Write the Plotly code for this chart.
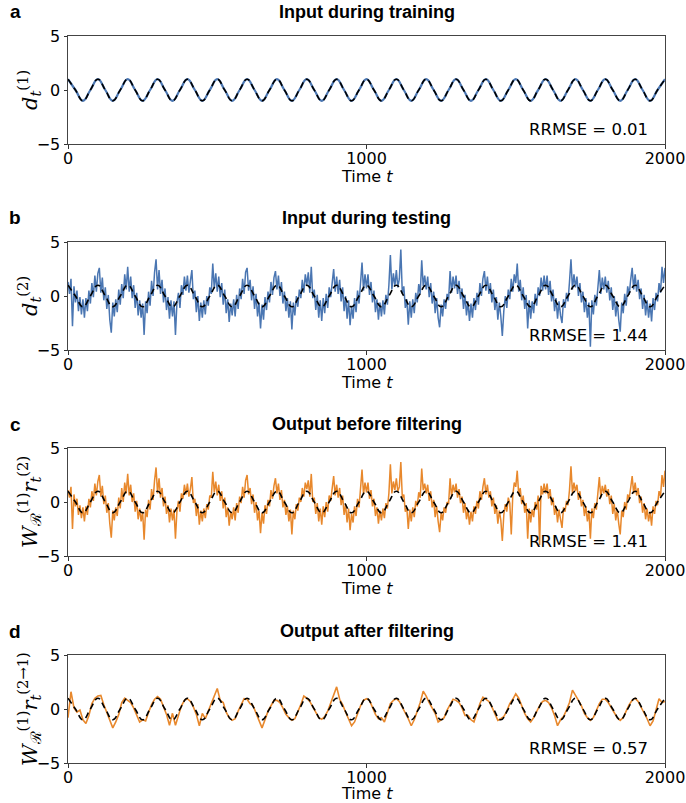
import plotly.graph_objects as go

W, H = 686, 803

# ---------------- data ----------------
target_t = list(range(0, 2001, 25))
target_vals = [1, 0, -1, 0, 1, 0, -1, 0, 1, 0, -1, 0, 1, 0, -1, 0, 1, 0, -1, 0,
               1, 0, -1, 0, 1, 0, -1, 0, 1, 0, -1, 0, 1, 0, -1, 0, 1, 0, -1, 0,
               1, 0, -1, 0, 1, 0, -1, 0, 1, 0, -1, 0, 1, 0, -1, 0, 1, 0, -1, 0,
               1, 0, -1, 0, 1, 0, -1, 0, 1, 0, -1, 0, 1, 0, -1, 0, 1, 0, -1, 0, 1]

train_input = [1, 0, -1, 0, 1, 0, -1, 0, 1, 0, -1, 0, 1, 0, -1, 0, 1, 0, -1, 0,
               1, 0, -1, 0, 1, 0, -1, 0, 1, 0, -1, 0, 1, 0, -1, 0, 1, 0, -1, 0,
               1, 0, -1, 0, 1, 0, -1, 0, 1, 0, -1, 0, 1, 0, -1, 0, 1, 0, -1, 0,
               1, 0, -1, 0, 1, 0, -1, 0, 1, 0, -1, 0, 1, 0, -1, 0, 1, 0, -1, 0, 1]

noisy_t = list(range(0, 2001, 5))

test_input = [
    1.3, 0.2, 1.6, -2.8, 0.9, -0.6, 0.5, -1.4, -0.1, -1.7, -0.3, -2.0, -0.2, -1.4, 0.5, -0.7, 1.2, -0.1, 1.9, 0.4,
    2.1, 2.6, 0.3, 1.7, -0.4, 0.8, -1.2, 0.1, -2.2, -3.4, -0.6, -1.9, -0.3, -1.5, 0.6, -0.8, 1.1, -0.2, 2.0, 0.6,
    2.7, 0.4, 1.8, -0.2, 1.0, -1.1, 0.3, -1.8, -0.4, -2.0, -0.7, -3.6, -0.5, -1.6, 0.4, -0.9, 1.4, 0.0, 2.2, 3.4,
    0.6, 2.4, 0.2, 1.5, -0.6, 0.7, -1.3, -0.1, -2.1, -0.4, -1.9, -0.5, -3.6, -0.6, 0.3, -1.1, 1.0, 0.1, 1.8, 0.5,
    1.9, 0.3, 1.4, 2.4, -0.3, 0.5, -1.5, 0.0, -2.3, -0.6, -2.0, -0.4, -1.7, 0.0, -0.9, 0.8, 0.2, 3.0, 0.7, 2.1,
    0.4, 1.8, -0.1, 1.2, -0.8, 0.6, -1.6, -0.3, -2.4, -0.7, -1.8, -0.3, -1.9, 0.1, -1.2, 0.7, -0.3, 1.6, 0.2, 2.2,
    2.6, 0.5, 1.5, -0.4, 0.9, -1.2, 0.2, -1.9, -0.6, -3.0, -0.8, -2.2, -0.1, -1.3, 0.4, -0.6, 1.3, 0.1, 1.7, 2.3,
    0.6, 1.9, 0.0, 1.3, -0.7, 0.4, -1.4, -0.2, -2.0, -0.5, -3.1, -0.6, -1.8, 0.0, -1.0, 0.6, -0.2, 1.5, 0.3, 2.0,
    1.0, 2.2, 0.3, 2.7, -0.2, 0.6, -1.3, 0.1, -2.0, -0.4, -2.3, -0.2, -1.6, 0.2, -1.1, 0.8, -0.1, 1.4, 2.5, 0.4,
    1.8, 0.2, 1.5, -0.5, 0.8, -1.4, 0.0, -2.1, -0.4, -2.7, -0.9, -2.1, -0.2, -1.5, 0.5, -0.7, 1.2, 3.1, 0.5, 2.0,
    0.7, 2.0, 0.1, 1.3, -0.6, 0.5, -1.5, -0.3, -2.2, -0.6, -1.9, -0.4, -1.7, 0.1, -0.8, 1.0, 3.8, 0.6, 2.1, 0.9,
    2.4, 0.8, 1.6, 4.3, 0.2, 0.9, -1.1, -0.3, -2.65, -0.5, -2.0, -0.3, -1.6, 0.3, -0.6, 1.1, 0.2, 3.3, 0.9, 1.9,
    0.6, 1.8, -0.1, 1.2, -0.7, 0.4, -1.6, -0.2, -2.0, -2.9, -0.8, -1.9, -0.3, -1.2, 0.2, -0.4, 2.3, 0.3, 1.8, 0.7,
    1.9, 0.2, 1.4, -0.3, 0.7, -1.2, 0.1, -1.8, -0.5, -2.3, -0.7, -2.0, -0.2, -1.3, 0.3, -0.8, 1.2, 0.0, 1.6, 2.3,
    0.5, 1.8, 0.2, 1.2, -0.6, 0.6, -1.3, -0.1, -2.2, -0.6, -1.9, -3.7, -1.4, 0.0, -1.1, 0.6, -0.3, 1.6, 0.4, 2.0,
    1.2, 3.0, 0.4, 1.5, -0.4, 0.8, -1.2, 0.1, -3.0, -0.4, -2.1, -0.5, -1.6, 0.2, -0.9, 0.8, 0.0, 1.7, 0.5, 1.9,
    0.6, 1.9, 0.1, 1.4, -0.5, 0.6, -1.4, -0.2, -2.1, -0.5, -1.8, -2.5, -0.3, -1.1, 0.3, -0.5, 1.3, 3.4, 0.6, 2.0,
    0.8, 1.8, 0.0, 1.2, -0.6, 0.4, -1.5, -0.2, -2.0, -0.6, -4.7, -0.4, -1.7, 0.1, -0.9, 0.7, 2.4, 0.2, 1.7, 0.6,
    1.8, 0.3, 1.4, -0.4, 0.8, -1.3, 0.0, -1.9, -0.5, -2.2, -3.3, -0.6, -1.6, 0.2, -0.9, 0.9, 0.1, 1.5, 2.6, 0.6,
    2.0, 0.4, 1.5, -0.3, 0.7, -1.2, 0.1, -1.8, -0.4, -2.0, -0.7, -2.35, -0.2, -1.3, 0.3, -0.5, 1.2, 0.3, 2.7, 1.2,
    2.6]

output_before = [
    1.1, 0.4, 1.4, -2.5, 0.7, -0.4, 0.3, -1.2, -0.3, -1.5, -0.5, -1.8, -0.4, -1.2, 0.3, -0.5, 1.0, 0.1, 1.7, 0.6,
    1.9, 2.5, 0.5, 1.5, -0.2, 0.6, -1.0, -0.1, -2.0, -3.3, -0.8, -1.7, -0.5, -1.3, 0.4, -0.6, 1.3, 0.0, 1.8, 0.8,
    2.6, 0.6, 1.6, 0.0, 0.8, -0.9, 0.1, -1.6, -0.6, -1.8, -0.9, -3.5, -0.7, -1.4, 0.2, -0.7, 1.2, 0.2, 2.0, 3.2,
    0.8, 2.2, 0.4, 1.3, -0.4, 0.5, -1.1, -0.3, -1.9, -0.6, -1.7, -0.7, -3.4, -0.8, 0.1, -0.9, 0.8, 0.3, 1.6, 0.7,
    1.7, 0.5, 1.2, 2.3, -0.1, 0.3, -1.3, -0.2, -2.1, -0.8, -1.8, -0.6, -1.5, -0.2, -0.7, 0.6, 0.4, 2.8, 0.9, 1.9,
    0.6, 1.6, 0.1, 1.0, -0.6, 0.4, -1.4, -0.5, -2.2, -0.9, -1.6, -0.5, -1.7, -0.1, -1.0, 0.5, -0.1, 1.4, 0.4, 2.0,
    2.5, 0.7, 1.3, -0.2, 0.7, -1.0, 0.0, -1.7, -0.8, -2.9, -1.0, -2.0, -0.3, -1.1, 0.2, -0.4, 1.1, 0.3, 1.5, 2.2,
    0.8, 1.7, 0.2, 1.1, -0.5, 0.2, -1.2, -0.4, -1.8, -0.7, -3.0, -0.8, -1.6, -0.2, -0.8, 0.4, 0.0, 1.3, 0.5, 1.8,
    1.2, 2.0, 0.5, 2.6, 0.0, 0.4, -1.1, -0.1, -1.8, -0.6, -2.1, -0.4, -1.4, 0.0, -0.9, 0.6, 0.1, 1.2, 2.4, 0.6,
    1.6, 0.4, 1.3, -0.3, 0.6, -1.2, -0.2, -1.9, -0.6, -2.6, -1.1, -1.9, -0.4, -1.3, 0.3, -0.5, 1.0, 3.0, 0.7, 1.8,
    0.9, 1.8, 0.3, 1.1, -0.4, 0.3, -1.3, -0.5, -2.0, -0.8, -1.7, -0.6, -1.5, -0.1, -0.6, 0.8, 3.5, 0.8, 1.9, 1.1,
    2.2, 1.0, 1.4, 3.7, 0.4, 0.7, -0.9, -0.5, -2.5, -0.7, -1.8, -0.5, -1.4, 0.1, -0.4, 0.9, 0.4, 3.1, 1.1, 1.7,
    0.8, 1.6, 0.1, 1.0, -0.5, 0.2, -1.4, -0.4, -1.8, -2.8, -1.0, -1.7, -0.5, -1.0, 0.0, -0.2, 2.2, 0.5, 1.6, 0.9,
    1.7, 0.4, 1.2, -0.1, 0.5, -1.0, -0.1, -1.6, -0.7, -2.1, -0.9, -1.8, -0.4, -1.1, 0.1, -0.6, 1.0, 0.2, 1.4, 2.2,
    0.7, 1.6, 0.4, 1.0, -0.4, 0.4, -1.1, -0.3, -2.0, -0.8, -1.7, -3.6, -1.2, -0.2, -0.9, 0.4, -0.1, -3.0, 0.6, 1.8,
    1.4, 2.9, 0.6, 1.3, -0.2, 0.6, -1.0, -0.1, -3.4, -0.6, -1.9, -0.7, -1.4, 0.0, -0.7, 0.6, -4.0, 1.5, 0.7, 1.7,
    0.8, 1.7, 0.3, 1.2, -0.3, 0.4, -1.2, -0.4, -1.9, -0.7, -1.6, -2.4, -0.5, -0.9, 0.1, -0.3, 1.1, 3.3, 0.8, 1.8,
    1.0, 1.6, 0.2, 1.0, -0.4, 0.2, -1.3, -0.4, -1.8, -0.8, -3.4, -0.6, -1.5, -0.1, -0.7, 0.5, 2.3, 0.4, 1.5, 0.8,
    1.6, 0.5, 1.2, -0.2, 0.6, -1.1, -0.2, -1.7, -0.7, -2.0, -3.0, -0.8, -1.4, 0.0, -0.7, 0.7, 0.3, 1.3, 2.4, 0.8,
    1.8, 0.6, 1.3, -0.1, 0.5, -1.0, -0.1, -1.6, -0.6, -1.8, -0.9, -2.2, -0.4, -1.1, 0.1, -0.3, 1.0, 0.5, 2.5, 1.4,
    2.9]

filtered_t = list(range(0, 2001, 10))
output_after = [
    -0.8, 1.6, 0.1, -0.3, -0.1, -1.0, -1.35, -0.6, 0.5, 1.0,
    1.2, 1.25, 0.4, -0.3, -1.0, -1.75, -1.2, -0.5, 0.6, 1.0,
    0.8, 0.6, 0.1, -0.6, -1.2, -1.0, -1.1, -0.3, 0.4, 0.9,
    1.15, 0.9, 0.2, -0.5, -1.5, -0.4, -1.5, -0.6, 0.3, 0.8,
    0.95, 0.7, 0.2, -0.5, -1.55, -0.4, -0.9, -0.2, 0.5, 1.2,
    1.9, 0.8, 0.6, -0.3, -0.8, -1.05, -0.9, -0.2, 0.4, 0.95,
    0.9, 0.5, 0.3, -0.4, -1.1, -1.75, -1.0, -0.2, 0.3, 0.8,
    0.8, 0.6, 0.1, -0.5, -0.8, -1.05, -0.9, -0.3, 0.4, 1.2,
    1.0, 0.7, 0.2, -0.2, -0.8, -0.95, -0.7, -0.2, 0.5, 1.2,
    2.05, 0.9, 0.4, -0.3, -0.9, -1.55, -1.2, -0.4, 0.3, 0.8,
    0.95, 0.8, 0.2, -0.5, -0.9, -0.8, -1.2, -0.4, 0.5, 0.8,
    0.95, 0.7, 0.2, -0.3, -0.9, -1.55, -1.0, -0.2, 0.6, 1.65,
    1.2, 0.6, 0.1, -0.4, -1.2, -1.0, -0.8, -0.1, 0.4, 0.9,
    0.8, 0.6, 0.1, -0.6, -0.6, -1.0, -1.2, -0.3, 0.5, 1.1,
    0.9, 0.7, 0.2, -0.4, -1.05, -0.9, -0.7, -0.2, 0.5, 0.9,
    1.4, 1.0, 0.3, -0.4, -0.9, -1.2, -0.8, -0.2, 0.3, 0.7,
    0.8, 0.6, 0.1, -0.6, -1.55, -1.0, -0.7, -0.1, 0.6, 1.75,
    1.2, 0.8, 0.3, -0.4, -0.8, -1.05, -0.8, -0.2, 0.5, 0.9,
    0.9, 0.6, 0.1, -0.4, -0.8, -1.05, -0.8, -0.2, 0.4, 0.8,
    1.0, 0.7, 0.2, -0.4, -0.9, -1.55, -1.1, -0.1, 0.95, 0.6,
    0.7]

panel_titles = ["Input during training", "Input during testing",
                "Output before filtering", "Output after filtering"]
panel_letters = ["a", "b", "c", "d"]
rrmse_labels = ["RRMSE = 0.01", "RRMSE = 1.44", "RRMSE = 1.41", "RRMSE = 0.57"]
x_ticks = [0, 1000, 2000]
y_ticks = [-5, 0, 5]
y_ticktext = ["−5", "0", "5"]

BLUE = "#4a76b2"
ORANGE = "#e8882c"

# ---------------- layout geometry (page pixels) ----------------
x_left, x_right = 68, 665
panels_px = [(36, 144), (242, 350), (448, 556), (655, 763)]
xtitle_gap = [32, 32, 32, 30]


def px(x):
    return x / W


def py(y):
    return 1 - y / H


fig = go.Figure()

series = [
    (target_t, train_input, BLUE, 2.2, "spline"),
    (noisy_t, test_input, BLUE, 1.5, "linear"),
    (noisy_t, output_before, ORANGE, 1.5, "linear"),
    (filtered_t, output_after, ORANGE, 1.6, "linear"),
]

ylabels = [
    "<i>d</i><sub><i>t</i></sub><sup>(1)</sup>",
    "<i>d</i><sub><i>t</i></sub><sup>(2)</sup>",
    "<i>W</i><sub>ℛ</sub><sup>(1)</sup><i>r</i><sub><i>t</i></sub><sup>(2)</sup>",
    "<i>W</i><sub>ℛ</sub><sup>(1)</sup><i>r</i><sub><i>t</i></sub><sup>(2→1)</sup>",
]

annotations = []
for i, (top, bot) in enumerate(panels_px):
    n = "" if i == 0 else str(i + 1)
    xa, ya = "x" + n, "y" + n
    xs, yv, col, lw, shape = series[i]
    fig.add_trace(go.Scatter(x=xs, y=yv, mode="lines", xaxis=xa, yaxis=ya,
                             line=dict(color=col, width=lw, shape=shape, smoothing=1.3),
                             showlegend=False, hoverinfo="skip"))
    fig.add_trace(go.Scatter(x=target_t, y=target_vals, mode="lines", xaxis=xa, yaxis=ya,
                             line=dict(color="black", width=1.6, dash="6px,4px",
                                       shape="spline", smoothing=1.3),
                             showlegend=False, hoverinfo="skip"))
    axis_common = dict(showline=True, linecolor="#444", linewidth=1, mirror=True,
                       ticks="outside", ticklen=3.5, tickwidth=1, tickcolor="#333",
                       showgrid=False, zeroline=False, automargin=False,
                       tickfont=dict(family="DejaVu Sans", size=16, color="black"))
    fig.layout["xaxis" + n] = dict(domain=[px(x_left), px(x_right)], range=[0, 2000],
                                   tickvals=x_ticks, anchor=ya, ticklabelstandoff=-4,
                                   **axis_common)
    fig.layout["yaxis" + n] = dict(domain=[py(bot), py(top)], range=[-5, 5],
                                   tickvals=y_ticks, ticktext=y_ticktext,
                                   anchor=xa, **axis_common)
    annotations.append(dict(text="<b>" + panel_titles[i] + "</b>", x=px((x_left + x_right) / 2),
                            y=py(top - 24), xref="paper", yref="paper", showarrow=False,
                            xanchor="center", yanchor="middle",
                            font=dict(family="Liberation Sans", size=18, color="black")))
    annotations.append(dict(text="<b>" + panel_letters[i] + "</b>", x=px(15), y=py(top - 24),
                            xref="paper", yref="paper", showarrow=False,
                            xanchor="center", yanchor="middle",
                            font=dict(family="Liberation Sans", size=19, color="black")))
    annotations.append(dict(text="Time <i>t</i>", x=px((x_left + x_right) / 2),
                            y=py(bot + xtitle_gap[i]),
                            xref="paper", yref="paper", showarrow=False,
                            xanchor="center", yanchor="middle",
                            font=dict(family="DejaVu Sans", size=16, color="black")))
    annotations.append(dict(text=ylabels[i], x=px(29), y=py((top + bot) / 2),
                            xref="paper", yref="paper", showarrow=False, textangle=-90,
                            xanchor="center", yanchor="middle",
                            font=dict(family="DejaVu Serif", size=21, color="black")))
    annotations.append(dict(text=rrmse_labels[i], x=0.975, y=0.03,
                            xref=xa + " domain", yref=ya + " domain", showarrow=False,
                            xanchor="right", yanchor="bottom",
                            font=dict(family="DejaVu Sans", size=16.5, color="black")))

fig.update_layout(width=W, height=H, margin=dict(l=0, r=0, t=0, b=0, autoexpand=False),
                  paper_bgcolor="white", plot_bgcolor="white",
                  annotations=annotations)

# remove the browser's default 8px body margin so the figure fills the window exactly
fig.write_html("out.html", config={"displayModeBar": False},
               post_script="document.body.style.margin='0px';")
